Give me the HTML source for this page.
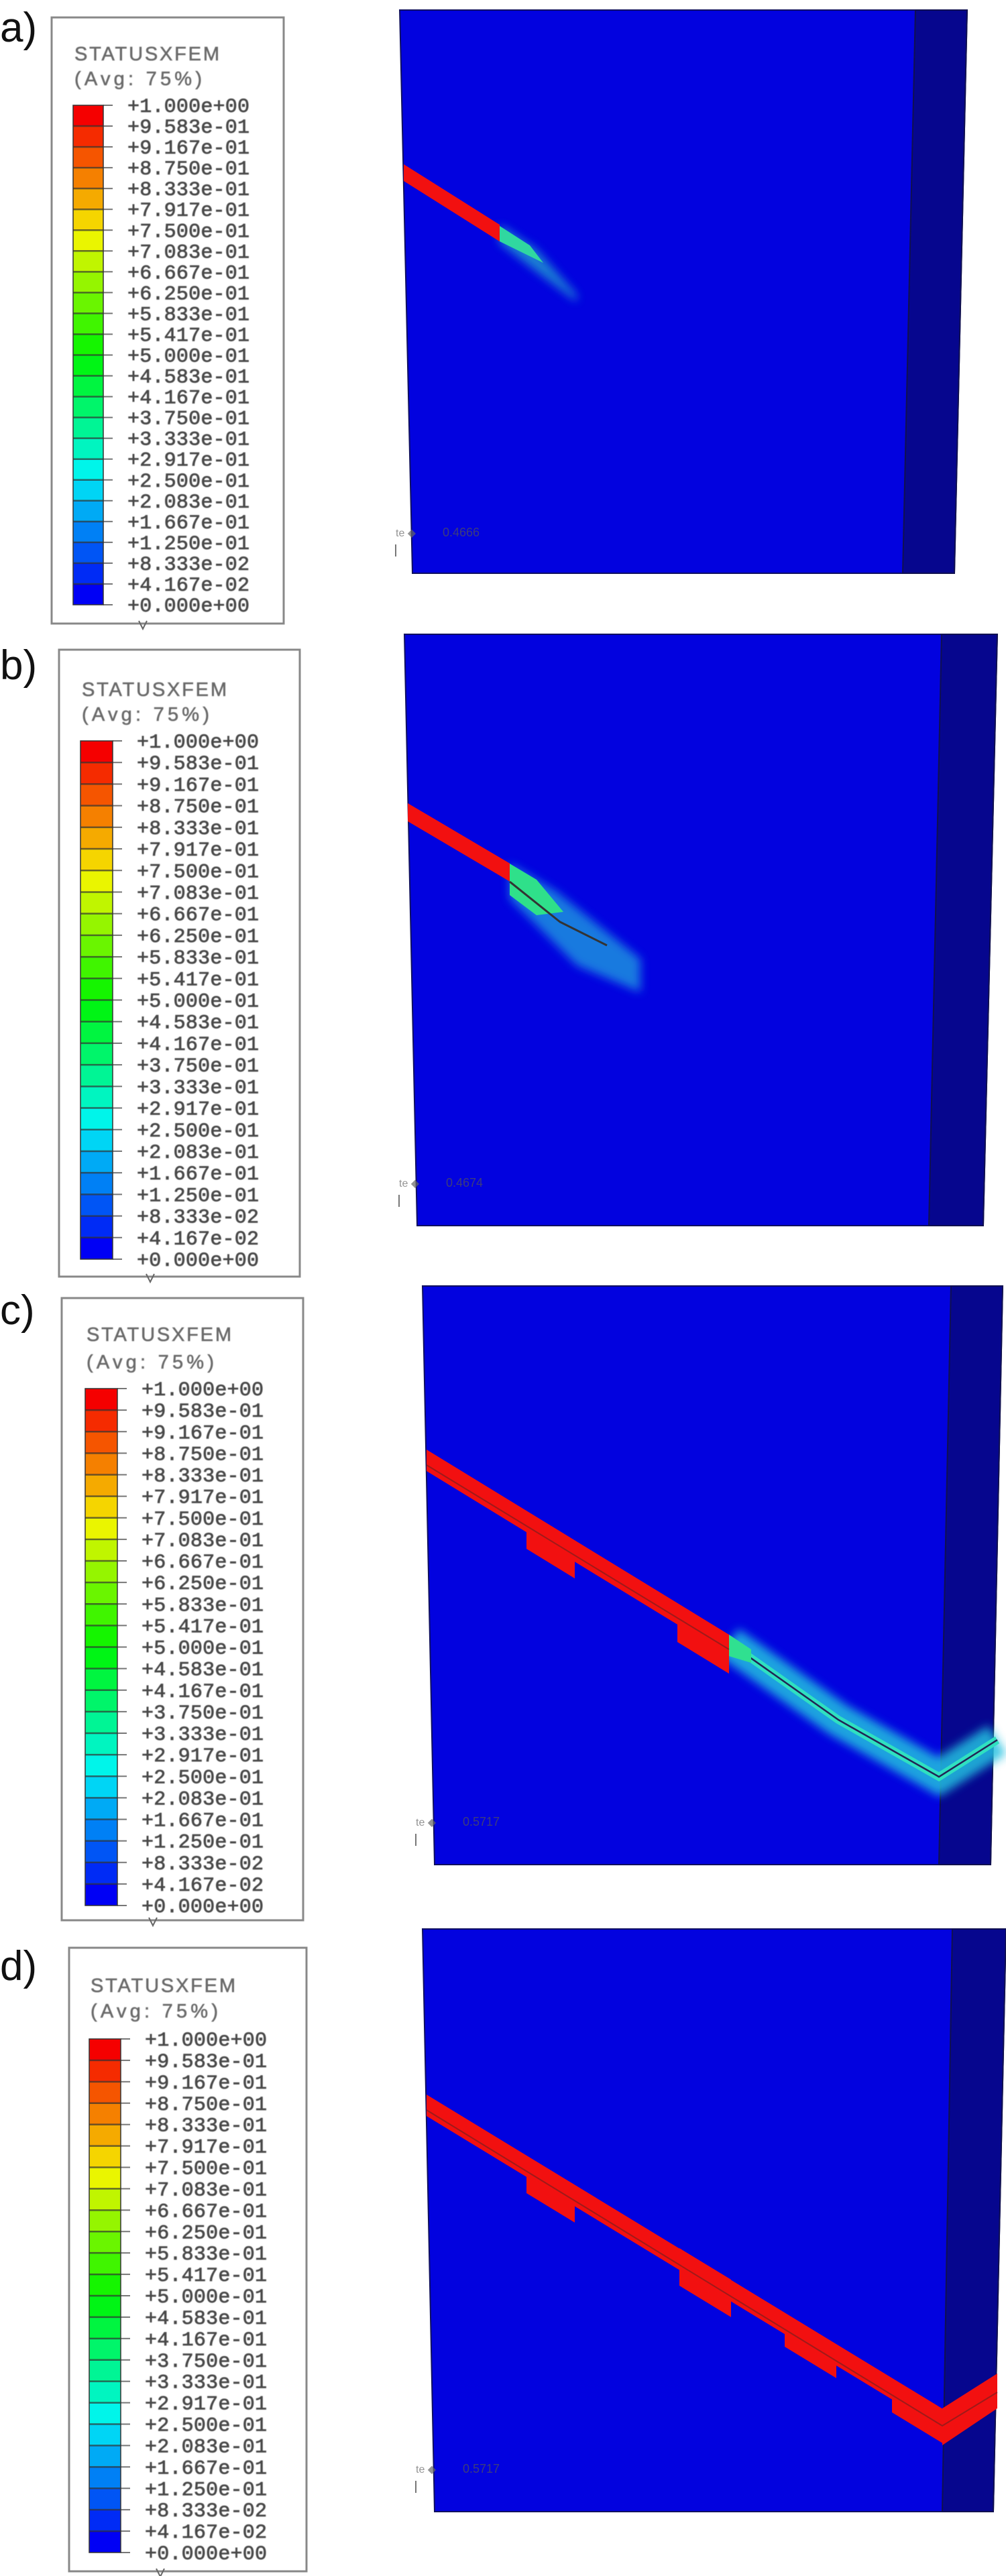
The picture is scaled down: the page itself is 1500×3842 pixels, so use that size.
<!DOCTYPE html>
<html><head><meta charset="utf-8"><style>
html,body{margin:0;padding:0;background:#fff;}
svg{display:block;}
</style></head><body>
<svg id="fig" xmlns="http://www.w3.org/2000/svg" width="1500" height="3842" viewBox="0 0 1500 3842">
<defs>
<filter id="blur6" x="-50%" y="-50%" width="200%" height="200%"><feGaussianBlur stdDeviation="7"/></filter>
<filter id="blur2"><feGaussianBlur stdDeviation="1.5"/></filter>
<filter id="txtblur"><feGaussianBlur stdDeviation="0.5"/></filter>
</defs>
</svg>
<script>
const legendValues = ["+1.000e+00","+9.583e-01","+9.167e-01","+8.750e-01","+8.333e-01","+7.917e-01","+7.500e-01","+7.083e-01","+6.667e-01","+6.250e-01","+5.833e-01","+5.417e-01","+5.000e-01","+4.583e-01","+4.167e-01","+3.750e-01","+3.333e-01","+2.917e-01","+2.500e-01","+2.083e-01","+1.667e-01","+1.250e-01","+8.333e-02","+4.167e-02","+0.000e+00"];
const panelLetters = ["a)","b)","c)","d)"];
const scaleTexts = ["0.4666","0.4674","0.5717","0.5717"];

const NS="http://www.w3.org/2000/svg";
const svg=document.getElementById('fig');
function mk(tag,attrs,parent){const e=document.createElementNS(NS,tag);for(const k in attrs)e.setAttribute(k,attrs[k]);(parent||svg).appendChild(e);return e;}
function pts(a){return a.map(p=>p.join(',')).join(' ');}

const panels=[
 {lab:[0,62],box:[77,26,346,904],bar:[109,157,45,745],t1:90,t2:127,
  model:[[596,15],[1442,15],[1423,855],[615,855]],strip:[1365,1346],scale:[660,800]},
 {lab:[0,1013],box:[88,969,359,935],bar:[120,1105,48,773],t1:1038,t2:1075,
  model:[[603,946],[1487,946],[1466,1828],[622,1828]],strip:[1404,1385],scale:[665,1770]},
 {lab:[0,1975],box:[92,1936,360,928],bar:[127,2071,48,771],t1:2000,t2:2041,
  model:[[630,1918],[1495,1918],[1477,2781],[648,2781]],strip:[1418,1400],scale:[690,2723]},
 {lab:[0,2953],box:[103,2905,354,930],bar:[133,3041,47,766],t1:2971,t2:3009,
  model:[[630,2877],[1500,2877],[1481,3746],[648,3746]],strip:[1420,1405],scale:[690,3688]}
];

panels.forEach((p,pi)=>{
  const g=mk('g',{});
  
  
  const lt=mk('text',{x:p.lab[0],y:p.lab[1],'font-family':'Liberation Sans, sans-serif','font-size':62,fill:'#111'},g);
  lt.textContent=panelLetters[pi];
  
  
  const lg=mk('g',{},g);
  
  
  const [bx,by,bw,bh]=p.box;
  mk('rect',{x:bx,y:by,width:bw,height:bh,fill:'#fff',stroke:'#888','stroke-width':3},lg);
  mk('path',{d:`M${bx+130},${by+bh-4} l6,12 l6,-12`,stroke:'#666',fill:'none','stroke-width':2},lg);
  const t1=mk('text',{x:p.bar[0]+2,y:p.t1,'font-family':'Liberation Sans, sans-serif','font-size':29,fill:'#6a6a6a',stroke:'#6a6a6a','stroke-width':0.6,textLength:216,filter:'url(#txtblur)'},lg);
  t1.textContent='STATUSXFEM';
  
  
  const t2=mk('text',{x:p.bar[0]+2,y:p.t2,'font-family':'Liberation Sans, sans-serif','font-size':29,fill:'#6a6a6a',stroke:'#6a6a6a','stroke-width':0.6,textLength:190,filter:'url(#txtblur)'},lg);
  t2.textContent='(Avg: 75%)';
  
  
  const [cx,cy,cw,ch]=p.bar;
  const n=legendValues.length-1;
  const step=ch/n;
  for(let i=0;i<n;i++){
    const hue=240*(i/(n-1));
    const r=mk('rect',{x:cx,y:cy+i*step,width:cw,height:step+0.5,fill:`hsl(${hue},100%,48%)`},lg);
    
    
  }
  for(let i=0;i<=n;i++){
    const y=cy+i*step;
    if(i>0&&i<n) mk('line',{x1:cx,x2:cx+cw,y1:y,y2:y,stroke:'#333','stroke-width':2.5,opacity:0.7},lg);
    mk('line',{x1:cx+cw,x2:cx+cw+14,y1:y,y2:y,stroke:'#777','stroke-width':2},lg);
    const tx=mk('text',{x:cx+cw+36,y:y+10,'font-family':'Liberation Mono, monospace','font-size':30,fill:'#4a4a4a',stroke:'#4a4a4a','stroke-width':0.8,textLength:182,filter:'url(#txtblur)'},lg);
    tx.textContent=legendValues[i];
    
    
  }
  mk('rect',{x:cx,y:cy,width:cw,height:ch,fill:'none',stroke:'#333','stroke-width':1.5},lg);
  const mg=mk('g',{},g);
  
  
  const M=p.model;
  mk('polygon',{points:pts(M),fill:'#0202df',stroke:'#101060','stroke-width':2},mg);
  mk('polygon',{points:pts([[p.strip[0],M[0][1]],M[1],M[2],[p.strip[1],M[2][1]]]),fill:'#06068e',stroke:'#101050','stroke-width':2},mg);
  const st=mk('text',{x:p.scale[0],y:p.scale[1],'font-family':'Liberation Sans, sans-serif','font-size':18,fill:'#555',opacity:0.7},mg);
  st.textContent=scaleTexts[pi];
  mk('text',{x:p.scale[0]-70,y:p.scale[1],'font-family':'Liberation Sans, sans-serif','font-size':16,fill:'#666',opacity:0.7},mg).textContent='te ◆';
  mk('line',{x1:p.scale[0]-70,x2:p.scale[0]-70,y1:p.scale[1]+12,y2:p.scale[1]+30,stroke:'#777','stroke-width':2},mg);
  const cg=mk('g',{},g);
  
  
  drawCrack(pi,cg);
});

function band(x1,y1,x2,slope,th,fill,g){
  const y2=y1+(x2-x1)*slope;
  return mk('polygon',{points:pts([[x1,y1],[x2,y2],[x2,y2+th],[x1,y1+th]]),fill:fill},g);
}
function drawCrack(pi,g){
  const RED='#f21010';
  if(pi===0){
    mk('polygon',{points:pts([[745,335],[800,372],[860,440],[860,450],[800,405],[745,362]]),fill:'#20a0d0',filter:'url(#blur6)',opacity:0.8},g);
    mk('polygon',{points:pts([[745,337],[790,366],[810,392],[745,360]]),fill:'#30d8a0'},g);
    band(602,245,745,0.63,25,RED,g);
  } else if(pi===1){
    mk('polygon',{points:pts([[760,1288],[830,1330],[955,1430],[955,1480],[860,1440],[760,1340]]),fill:'#1e8fe0',filter:'url(#blur6)',opacity:0.85},g);
    mk('polygon',{points:pts([[760,1288],[800,1312],[840,1360],[800,1365],[760,1335]]),fill:'#2fe08a'},g);
    band(608,1198,760,0.59,27,RED,g);
    mk('polyline',{points:pts([[760,1315],[835,1375],[905,1410]]),fill:'none',stroke:'#333','stroke-width':3},g);
  } else if(pi===2){
    const s=0.612;
    mk('polyline',{points:pts([[1087,2450],[1250,2565],[1400,2650],[1487,2595]]),fill:'none',stroke:'#20c0e0','stroke-width':50,filter:'url(#blur6)',opacity:0.85},g);
    mk('polyline',{points:pts([[1087,2450],[1250,2565],[1400,2650],[1487,2595]]),fill:'none',stroke:'#30e0c0','stroke-width':12},g);
    mk('polyline',{points:pts([[1087,2450],[1250,2565],[1400,2650],[1487,2595]]),fill:'none',stroke:'#225',"stroke-width":2.5},g);
    mk('polygon',{points:pts([[1087,2438],[1120,2460],[1120,2480],[1087,2470]]),fill:'#30e090'},g);
    band(636,2162,1087,s,32,RED,g);
    band(785,2282,857,s,28,RED,g);
    band(1010,2393,1087,s,56,RED,g);
    mk('polyline',{points:pts([[636,2185],[1087,2460]]),fill:'none',stroke:'#7a2020','stroke-width':2,opacity:0.7},g);
  } else {
    const s=0.609;
    band(636,3124,1405,s,32,RED,g);
    band(785,3243,857,s,28,RED,g);
    band(1013,3353,1090,s,56,RED,g);
    band(1170,3450,1247,s,50,RED,g);
    band(1330,3548,1405,s,50,RED,g);
    mk('polygon',{points:pts([[1405,3592],[1487,3540],[1487,3592],[1405,3647]]),fill:RED},g);
    mk('polyline',{points:pts([[636,3147],[1405,3618],[1487,3568]]),fill:'none',stroke:'#7a2020','stroke-width':2,opacity:0.7},g);
  }
}
</script>
</body></html>
